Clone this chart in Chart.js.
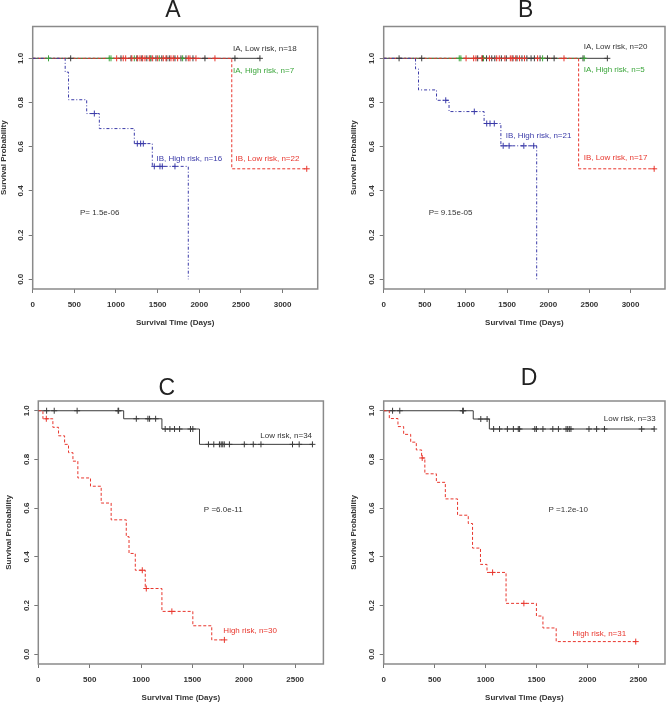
<!DOCTYPE html>
<html lang="en">
<head>
<meta charset="UTF-8">
<title>Kaplan-Meier survival curves</title>
<script src="https://cdn.jsdelivr.net/npm/chart.js"></script>
<style>
  html, body { margin: 0; padding: 0; background: #fff; overflow: hidden; width: 670px; height: 702px; }
  .panel { position: absolute; }
</style>
</head>
<body>
<div class="panel" style="left:0;top:0"><canvas id="chartA" width="335" height="340"></canvas></div>
<div class="panel" style="left:335px;top:0"><canvas id="chartB" width="335" height="340"></canvas></div>
<div class="panel" style="left:0;top:340px"><canvas id="chartC" width="335" height="362"></canvas></div>
<div class="panel" style="left:335px;top:340px"><canvas id="chartD" width="335" height="362"></canvas></div>

<script>
// ---- tick labels ----
const yTicks = [0, 0.2, 0.4, 0.6, 0.8, 1.0];
const xTicksAB = [0, 500, 1000, 1500, 2000, 2500, 3000];
const xTicksCD = [0, 500, 1000, 1500, 2000, 2500];

// ---- panel A ----
const aIALowTimes = [0, 2728];
const aIALowSurv = [1, 1];
const aIALowCens = [456, 1060, 1180, 1250, 1310, 1370, 1420, 1480, 1550, 1610, 1640, 1708, 1780, 1840, 1924, 2068, 2428, 2728];
const aIAHighTimes = [0, 1800];
const aIAHighSurv = [1, 1];
const aIAHighCens = [190, 919, 940, 1220, 1410, 1520, 1800];
const aIBLowTimes = [0, 2390, 3290];
const aIBLowSurv = [1, 0.5, 0.5];
const aIBLowCens = [1008, 1087, 1116, 1190, 1260, 1288, 1320, 1348, 1400, 1440, 1500, 1568, 1600, 1660, 1688, 1740, 1868, 1888, 1960, 2188, 3290];
const aIBHighTimes = [0, 390, 430, 648, 800, 1220, 1436, 1868];
const aIBHighSurv = [1, 0.9375, 0.8125, 0.75, 0.682, 0.614, 0.511, 0];
const aIBHighCens = [740, 1256, 1296, 1328, 1460, 1528, 1556, 1708];

// ---- panel B ----
const bIALowTimes = [0, 2718];
const bIALowSurv = [1, 1];
const bIALowCens = [187, 462, 1142, 1200, 1250, 1313, 1350, 1430, 1490, 1571, 1620, 1680, 1740, 1791, 1831, 1900, 1990, 2071, 2422, 2718];
const bIAHighTimes = [0, 2437];
const bIAHighSurv = [1, 1];
const bIAHighCens = [918, 938, 1213, 1931, 2437];
const bIBLowTimes = [0, 2369, 3287];
const bIBLowSurv = [1, 0.5, 0.5];
const bIBLowCens = [1001, 1093, 1121, 1193, 1285, 1373, 1405, 1472, 1539, 1560, 1604, 1651, 1711, 1870, 2191, 3287];
const bIBHighTimes = [0, 387, 423, 642, 794, 1220, 1424, 1859];
const bIBHighSurv = [1, 0.952, 0.857, 0.810, 0.759, 0.705, 0.604, 0];
const bIBHighCens = [754, 1101, 1252, 1292, 1344, 1452, 1524, 1703, 1823];

// ---- panel C ----
const cLowTimes = [0, 831, 1203, 1569, 2668];
const cLowSurv = [1, 0.967, 0.925, 0.862, 0.862];
const cLowCens = [81, 155, 378, 776, 782, 954, 1067, 1083, 1142, 1235, 1281, 1326, 1375, 1481, 1504,
                  1656, 1708, 1763, 1780, 1795, 1810, 1860, 2005, 2092, 2167, 2474, 2539, 2668];
const cHighTimes = [0, 45, 142, 197, 256, 294, 337, 385, 508, 612, 709, 856, 883, 944, 1041, 1203, 1504, 1688, 1811];
const cHighSurv = [1, 0.967, 0.932, 0.897, 0.862, 0.828, 0.793, 0.724, 0.690, 0.621, 0.552, 0.483, 0.414, 0.345, 0.270, 0.176, 0.117, 0.059, 0.059];
const cHighCens = [78, 1012, 1051, 1300, 1811];

// ---- panel D ----
const dLowTimes = [0, 879, 1037, 2655];
const dLowSurv = [1, 0.966, 0.925, 0.925];
const dLowCens = [87, 158, 775, 782, 953, 1015, 1079, 1137, 1214, 1273, 1321, 1334, 1483, 1499, 1563,
                  1660, 1715, 1790, 1806, 1822, 1838, 2015, 2090, 2167, 2532, 2655];
const dHighTimes = [0, 55, 140, 196, 265, 320, 372, 404, 517, 605, 725, 830, 872, 950, 1014, 1201, 1499, 1563, 1693, 2474];
const dHighSurv = [1, 0.968, 0.935, 0.903, 0.871, 0.839, 0.806, 0.741, 0.706, 0.638, 0.571, 0.537, 0.436, 0.369, 0.336, 0.209, 0.157, 0.108, 0.052, 0.052];
const dHighCens = [378, 1069, 1376, 2474];

const FONT = '"Liberation Sans", Arial, Helvetica, sans-serif';
const BLACK = '#3a3a3a';
const GREEN = '#3aa53a';
const RED = '#e8362d';
const BLUE = '#3a3aa8';

// survival value at time t (step function)
function stepAt(times, surv, t) {
    let s = surv[0];
    for (let i = 0; i < times.length; i++) {
        if (times[i] <= t) s = surv[i];
    }
    return s;
}

function curve(times, surv, color, dash) {
    return {
        data: times.map((t, i) => ({ x: t, y: surv[i] })),
        showLine: true,
        stepped: true,
        borderColor: color,
        borderWidth: 1,
        borderDash: dash,
        pointRadius: 0,
        fill: false
    };
}

function marks(cens, times, surv, color) {
    return {
        data: cens.map(t => ({ x: t, y: stepAt(times, surv, t) })),
        showLine: false,
        pointStyle: 'cross',
        pointRadius: 3,
        borderColor: color,
        borderWidth: 1
    };
}

// box, panel letter and text notes
const extras = {
    id: 'extras',
    beforeDatasetsDraw(chart, args, opts) {
        const { ctx, chartArea: a } = chart;
        ctx.save();
        ctx.strokeStyle = '#8a8a8a';
        ctx.lineWidth = 1.5;
        ctx.strokeRect(a.left, a.top, a.right - a.left, a.bottom - a.top);
        ctx.restore();
    },
    afterDatasetsDraw(chart, args, opts) {
        const { ctx, scales } = chart;
        ctx.save();
        ctx.font = '23px ' + FONT;
        ctx.fillStyle = '#222';
        ctx.textAlign = 'center';
        ctx.textBaseline = 'alphabetic';
        ctx.fillText(opts.letter, opts.letterX, opts.letterY + 8.3);
        ctx.font = '8px ' + FONT;
        ctx.textAlign = 'left';
        ctx.textBaseline = 'middle';
        opts.notes.forEach(n => {
            ctx.fillStyle = n.color;
            ctx.fillText(n.text, scales.x.getPixelForValue(n.x), scales.y.getPixelForValue(n.y));
        });
        ctx.restore();
    }
};

function makePanel(id, p) {
    const canvas = document.getElementById(id);
    const W = canvas.width, H = canvas.height;
    const a = p.area;
    return new Chart(canvas, {
        type: 'scatter',
        data: { datasets: p.datasets },
        options: {
            responsive: false,
            animation: false,
            devicePixelRatio: 1,
            layout: { padding: { left: 0, top: a.top, right: W - a.right, bottom: 0 } },
            plugins: {
                legend: { display: false },
                tooltip: { enabled: false },
                extras: { letter: p.letter, letterX: p.letterX, letterY: p.letterY, notes: p.notes }
            },
            scales: {
                x: {
                    type: 'linear',
                    min: 0,
                    max: p.xMax,
                    afterBuildTicks: s => { s.ticks = p.xTicks.map(v => ({ value: v })); },
                    afterFit: s => { s.height = H - a.bottom; },
                    grid: { drawOnChartArea: false, drawTicks: true, tickLength: 4, color: '#777' },
                    border: { display: false },
                    ticks: {
                        autoSkip: false, maxRotation: 0, padding: 7, color: '#333',
                        font: { family: FONT, size: 8, weight: 'bold' },
                        callback: v => String(v)
                    },
                    title: {
                        display: true, text: 'Survival Time (Days)', color: '#333',
                        font: { family: FONT, size: 8, weight: 'bold', lineHeight: 1 },
                        padding: { top: 0, bottom: p.xTitlePad }
                    }
                },
                y: {
                    type: 'linear',
                    min: p.yMin,
                    max: p.yMax,
                    afterBuildTicks: s => { s.ticks = yTicks.map(v => ({ value: v })); },
                    afterFit: s => { s.width = a.left; },
                    grid: { drawOnChartArea: false, drawTicks: true, tickLength: 4, color: '#777' },
                    border: { display: false },
                    ticks: {
                        minRotation: 90, maxRotation: 90, crossAlign: 'center', padding: 2,
                        color: '#333', font: { family: FONT, size: 8, weight: 'bold' },
                        callback: v => v.toFixed(1)
                    },
                    title: {
                        display: true, text: 'Survival Probability', color: '#333',
                        font: { family: FONT, size: 8, weight: 'bold', lineHeight: 1 },
                        padding: { top: p.yTitlePad, bottom: 0 }
                    }
                }
            }
        },
        plugins: [extras]
    });
}

const maxOf = arrs => Math.max(...arrs.flat()) * 1.04;

makePanel('chartA', {
    area: { left: 32.7, top: 26.5, right: 317.7, bottom: 289 },
    xMax: maxOf([aIALowTimes, aIAHighTimes, aIBLowTimes, aIBHighTimes]),
    yMin: -0.044, yMax: 1.144, xTicks: xTicksAB,
    xTitlePad: 13.3, yTitlePad: 0,
    letter: 'A', letterX: 173, letterY: 9,
    datasets: [
        marks(aIBHighCens, aIBHighTimes, aIBHighSurv, BLUE),
        marks(aIBLowCens, aIBLowTimes, aIBLowSurv, RED),
        marks(aIAHighCens, aIAHighTimes, aIAHighSurv, GREEN),
        marks(aIALowCens, aIALowTimes, aIALowSurv, BLACK),
        curve(aIBHighTimes, aIBHighSurv, BLUE, [3, 2, 1, 2]),
        curve(aIBLowTimes, aIBLowSurv, RED, [3, 2]),
        curve(aIAHighTimes, aIAHighSurv, GREEN, [2, 2]),
        curve(aIALowTimes, aIALowSurv, BLACK, [])
    ],
    notes: [
        { text: 'IA, Low risk, n=18', x: 2404, y: 1.045, color: '#333' },
        { text: 'IA, High risk, n=7', x: 2404, y: 0.944, color: GREEN },
        { text: 'IB, High risk, n=16', x: 1487, y: 0.546, color: BLUE },
        { text: 'IB, Low risk, n=22', x: 2436, y: 0.546, color: RED },
        { text: 'P= 1.5e-06', x: 568, y: 0.299, color: '#333' }
    ]
});

makePanel('chartB', {
    area: { left: 48.7, top: 26.5, right: 334.3, bottom: 289 },
    xMax: maxOf([bIALowTimes, bIAHighTimes, bIBLowTimes, bIBHighTimes]),
    yMin: -0.044, yMax: 1.144, xTicks: xTicksAB,
    xTitlePad: 13.3, yTitlePad: 15,
    letter: 'B', letterX: 190.7, letterY: 9,
    datasets: [
        marks(bIBHighCens, bIBHighTimes, bIBHighSurv, BLUE),
        marks(bIBLowCens, bIBLowTimes, bIBLowSurv, RED),
        marks(bIAHighCens, bIAHighTimes, bIAHighSurv, GREEN),
        marks(bIALowCens, bIALowTimes, bIALowSurv, BLACK),
        curve(bIBHighTimes, bIBHighSurv, BLUE, [3, 2, 1, 2]),
        curve(bIBLowTimes, bIBLowSurv, RED, [3, 2]),
        curve(bIAHighTimes, bIAHighSurv, GREEN, [2, 2]),
        curve(bIALowTimes, bIALowSurv, BLACK, [])
    ],
    notes: [
        { text: 'IA, Low risk, n=20', x: 2430, y: 1.05, color: '#333' },
        { text: 'IA, High risk, n=5', x: 2430, y: 0.947, color: GREEN },
        { text: 'IB, High risk, n=21', x: 1484, y: 0.649, color: BLUE },
        { text: 'IB, Low risk, n=17', x: 2430, y: 0.548, color: RED },
        { text: 'P= 9.15e-05', x: 546, y: 0.299, color: '#333' }
    ]
});

makePanel('chartC', {
    area: { left: 38.3, top: 61, right: 323.4, bottom: 324 },
    xMax: maxOf([cLowTimes, cHighTimes]),
    yMin: -0.04, yMax: 1.04, xTicks: xTicksCD,
    xTitlePad: 0, yTitlePad: 5,
    letter: 'C', letterX: 166.7, letterY: 46.7,
    datasets: [
        marks(cHighCens, cHighTimes, cHighSurv, RED),
        marks(cLowCens, cLowTimes, cLowSurv, BLACK),
        curve(cHighTimes, cHighSurv, RED, [3, 2]),
        curve(cLowTimes, cLowSurv, BLACK, [])
    ],
    notes: [
        { text: 'Low risk, n=34', x: 2160, y: 0.896, color: '#333' },
        { text: 'P =6.0e-11', x: 1611, y: 0.595, color: '#333' },
        { text: 'High risk, n=30', x: 1801, y: 0.097, color: RED }
    ]
});

makePanel('chartD', {
    area: { left: 48.7, top: 61, right: 334.3, bottom: 324 },
    xMax: maxOf([dLowTimes, dHighTimes]),
    yMin: -0.04, yMax: 1.04, xTicks: xTicksCD,
    xTitlePad: 0, yTitlePad: 15,
    letter: 'D', letterX: 194, letterY: 36.7,
    datasets: [
        marks(dHighCens, dHighTimes, dHighSurv, RED),
        marks(dLowCens, dLowTimes, dLowSurv, BLACK),
        curve(dHighTimes, dHighSurv, RED, [3, 2]),
        curve(dLowTimes, dLowSurv, BLACK, [])
    ],
    notes: [
        { text: 'Low risk, n=33', x: 2161, y: 0.966, color: '#333' },
        { text: 'P =1.2e-10', x: 1618, y: 0.595, color: '#333' },
        { text: 'High risk, n=31', x: 1854, y: 0.086, color: RED }
    ]
});
</script>
</body>
</html>
